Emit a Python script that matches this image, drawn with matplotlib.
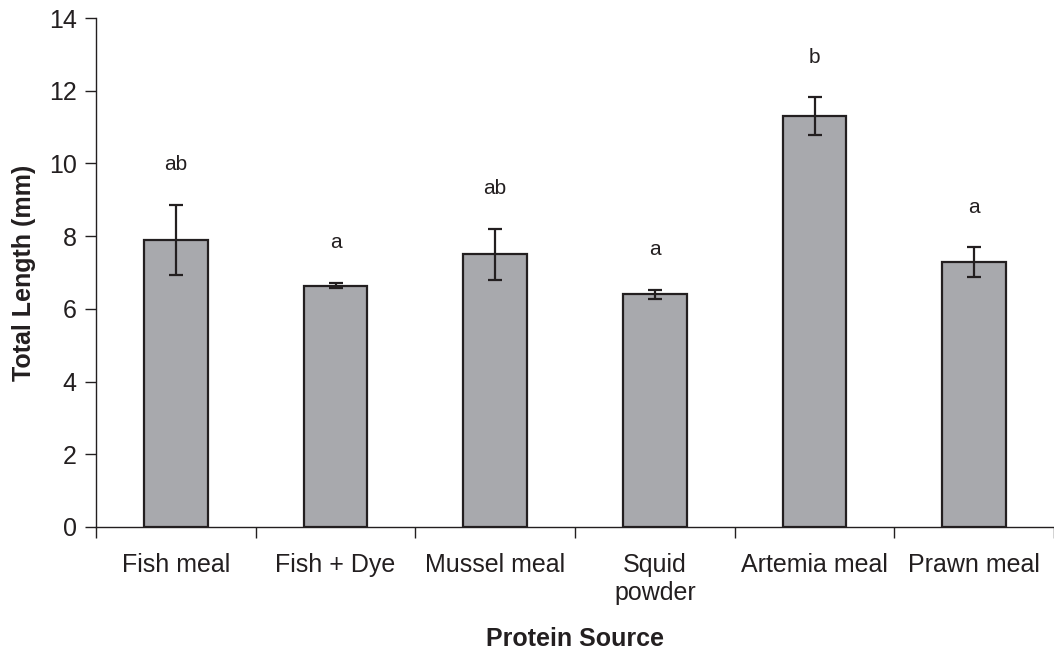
import numpy as np
import matplotlib
matplotlib.use('Agg')
import matplotlib.pyplot as plt

plt.rcParams['font.family'] = ['Liberation Sans', 'DejaVu Sans']

## data
sources = ['Fish meal', 'Fish + Dye', 'Mussel meal', 'Squid\npowder', 'Artemia meal', 'Prawn meal']
length_mm = [7.9, 6.64, 7.5, 6.4, 11.3, 7.28]
length_se = [0.97, 0.08, 0.71, 0.12, 0.52, 0.41]
groups = ['ab', 'a', 'ab', 'a', 'b', 'a']

ink = '#231f20'
fill = '#a8a9ad'

fig = plt.figure(figsize=(10.54, 6.52), dpi=100)
ax = fig.add_axes([96/1054, 1 - 527/652, 1 - 96/1054, (527 - 18)/652])

x = np.arange(len(sources))
ax.bar(x, length_mm, width=0.4, color=fill, edgecolor=ink, linewidth=1.6,
       yerr=length_se, capsize=5,
       error_kw=dict(ecolor=ink, elinewidth=1.6, capthick=1.6))

# significance letters above the error bars
for xi, m, s, g in zip(x, length_mm, length_se, groups):
    ax.text(xi, m + s + 1.1, g, ha='center', va='center', fontsize=15, color=ink)

ax.set_xlim(-0.5, 5.475)
ax.set_ylim(0, 14)
ax.set_yticks(np.arange(0, 15, 2))

# ticks between categories, names under the bars
ax.set_xticks(np.arange(-0.5, 6, 1))
ax.set_xticklabels([])
ax.set_xticks(x, minor=True)
ax.set_xticklabels(sources, minor=True)
ax.tick_params(axis='x', which='minor', length=0, pad=19, labelsize=18, labelcolor=ink)
ax.tick_params(axis='x', which='major', length=8, width=1, color=ink, direction='out')
ax.tick_params(axis='y', length=8, width=1, color=ink, pad=6, labelsize=18, labelcolor=ink)

for side in ['top', 'right']:
    ax.spines[side].set_visible(False)
for side in ['left', 'bottom']:
    ax.spines[side].set_color(ink)
    ax.spines[side].set_linewidth(1.0)

ax.set_xlabel('Protein Source', fontsize=18, fontweight='bold', color=ink, labelpad=16)
ax.set_ylabel('Total Length (mm)', fontsize=18, fontweight='bold', color=ink, labelpad=9)

fig.savefig('out.png', dpi=100)
